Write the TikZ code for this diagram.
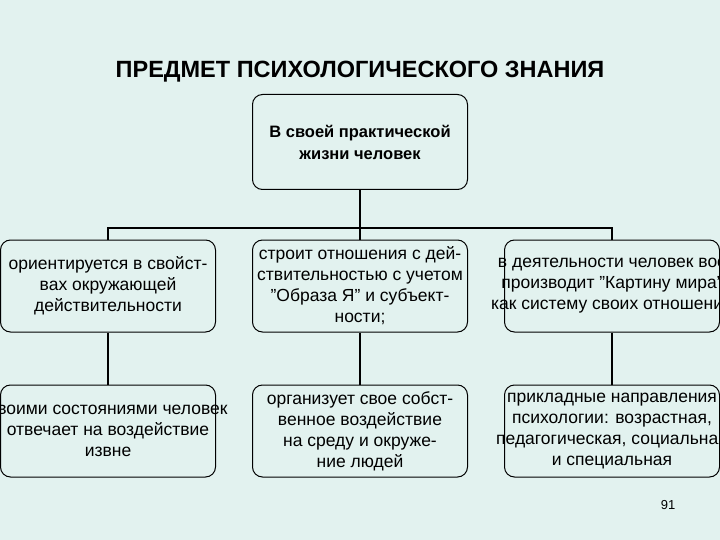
\documentclass[tikz,border=0pt]{standalone}
\usepackage{fontspec}
\setmainfont{Liberation Sans}
\usetikzlibrary{positioning,backgrounds}
\definecolor{slidebg}{HTML}{E2F2EF}
\begin{document}
\begin{tikzpicture}[x=1pt,y=-1pt]
\tikzstyle{box} = [
  draw=black, line width=1pt, rounded corners=10pt, fill=slidebg,
  minimum width=215pt, minimum height=92pt, inner sep=0pt
]
\tikzstyle{boxtext} = [
  align=center, font=\fontsize{17.5}{21}\selectfont
]
\tikzstyle{tedge} = [
  draw = black, line width=2.2pt
]
\useasboundingbox (0,0) rectangle (720,540);
\clip (0,0) rectangle (720,540);

\node [font=\bfseries\fontsize{23.5}{26}\selectfont] (title) at (360,72) {ПРЕДМЕТ ПСИХОЛОГИЧЕСКОГО ЗНАНИЯ};
\node [box, minimum height=95pt] (top) at (360,142) {};
\node [boxtext, font=\bfseries\fontsize{16.5}{22}\selectfont] at (top) {В своей практической\\жизни человек};

\node [box] (a1) at (108,286) {};
\node [box] (a2) at (360,286) {};
\node [box] (a3) at (612,286) {};
\node [box] (b1) at (108,431) {};
\node [box] (b2) at (360,431) {};
\node [box] (b3) at (612,431) {};

\node [boxtext] at (a1) {ориентируется в свойст-\\вах окружающей\\действительности};
\node [boxtext] at (a2) {строит отношения с дей-\\ствительностью с учетом\\"Образа Я" и субъект-\\ности;};
\node [boxtext] at (a3) {в деятельности человек вос\\производит "Картину мира"\\как систему своих отношений};
\node [boxtext] at (b1) {своими состояниями человек\\отвечает на воздействие\\извне};
\node [boxtext] at (b2) {организует свое собст-\\венное воздействие\\на среду и окруже-\\ние людей};
\node [boxtext] at (b3) {прикладные направления\\психологии: возрастная,\\педагогическая, социальная\\и специальная};

\node [font=\fontsize{13}{15}\selectfont] (page) at (668,505) {91};

\coordinate (hub) at (360,228);
\begin{scope}[on background layer]
\fill[slidebg] (0,0) rectangle (720,540);
\draw[tedge] (top.south) -- (hub);
\draw[tedge] (a1.north) |- (hub) -| (a3.north);
\draw[tedge] (hub) -- (a2.north);
\draw[tedge] (a1) -- (b1);
\draw[tedge] (a2) -- (b2);
\draw[tedge] (a3) -- (b3);
\end{scope}
\end{tikzpicture}
\end{document}
